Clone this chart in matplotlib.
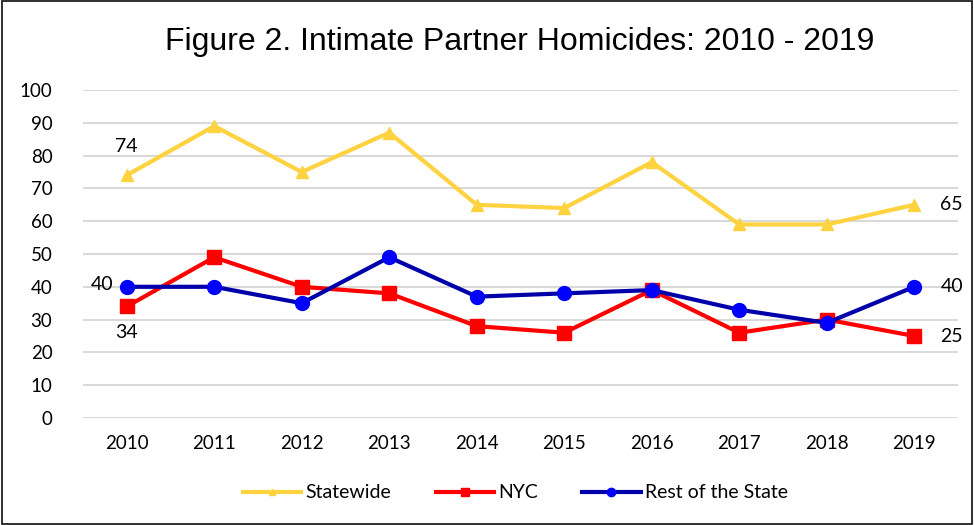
import matplotlib
matplotlib.use("Agg")
import matplotlib.pyplot as plt
from matplotlib import font_manager
import numpy as np

years = ["2010", "2011", "2012", "2013", "2014", "2015", "2016", "2017", "2018", "2019"]
statewide = [74, 89, 75, 87, 65, 64, 78, 59, 59, 65]
nyc = [34, 49, 40, 38, 28, 26, 39, 26, 30, 25]
rest_of_state = [40, 40, 35, 49, 37, 38, 39, 33, 29, 40]

plt.rcParams["font.family"] = ["Lato", "DejaVu Sans"]

# narrow face for the title, if available
names = {f.name for f in font_manager.fontManager.ttflist}
title_font = "Liberation Sans Narrow" if "Liberation Sans Narrow" in names else "Liberation Sans"

fig = plt.figure(figsize=(9.74, 5.25), dpi=100)
ax = fig.add_axes([83 / 974, 1 - 418 / 525, (958 - 83) / 974, (418 - 90) / 525])

x = np.arange(len(years))
ax.plot(x, statewide, color="#FFD23F", lw=3, marker="^", ms=8,
        markerfacecolor="#FFD23F", markeredgecolor="#FFD23F", label="Statewide", zorder=3)
ax.plot(x, nyc, color="#FF0000", lw=3, marker="s", ms=10,
        markerfacecolor="#FF0000", markeredgecolor="#FF0000", label="NYC", zorder=4)
ax.plot(x, rest_of_state, color="#0000AA", lw=3, marker="o", ms=10,
        markerfacecolor="#0000FF", markeredgecolor="#0000FF", label="Rest of the State", zorder=5)

ax.set_xlim(-0.5, len(years) - 0.5)
ax.set_ylim(0, 100)
ax.set_yticks(range(0, 101, 10))
ax.set_xticks(x)
ax.set_xticklabels(years)
ax.tick_params(axis="both", length=0, labelsize=13.5, colors="#000000")
ax.tick_params(axis="y", pad=22)
ax.tick_params(axis="x", pad=12)
ax.yaxis.grid(True, color="#D9D9D9", lw=1.5)
ax.set_axisbelow(True)
for s in ax.spines.values():
    s.set_visible(False)

# data labels at the ends
lab = dict(fontsize=14, color="#000000")
ax.annotate(str(statewide[0]), (x[0], statewide[0]), xytext=(0, 21),
            textcoords="offset points", ha="center", va="center", **lab)
ax.annotate(str(nyc[0]), (x[0], nyc[0]), xytext=(0, -19),
            textcoords="offset points", ha="center", va="center", **lab)
ax.annotate(str(rest_of_state[0]), (x[0], rest_of_state[0]), xytext=(-18, 2),
            textcoords="offset points", ha="center", va="center", **lab)
for vals in (statewide, nyc, rest_of_state):
    ax.annotate(str(vals[-1]), (x[-1], vals[-1]), xytext=(27, 0),
                textcoords="offset points", ha="center", va="center", **lab)

fig.text(0.534, 1 - 42 / 525, "Figure 2. Intimate Partner Homicides: 2010 - 2019",
         ha="center", va="center", fontsize=23, family=title_font)

fig.legend(loc="center", bbox_to_anchor=(0.529, 1 - 493 / 525), ncol=3, frameon=False,
           fontsize=14, handlelength=3.0, columnspacing=2.3, handletextpad=0.2,
           markerscale=0.6)

border = plt.Rectangle((0.002, 0.002), 0.996, 0.996, transform=fig.transFigure,
                       fill=False, edgecolor="#202020", lw=1.3)
fig.patches.append(border)

fig.savefig("out.png", dpi=100)
